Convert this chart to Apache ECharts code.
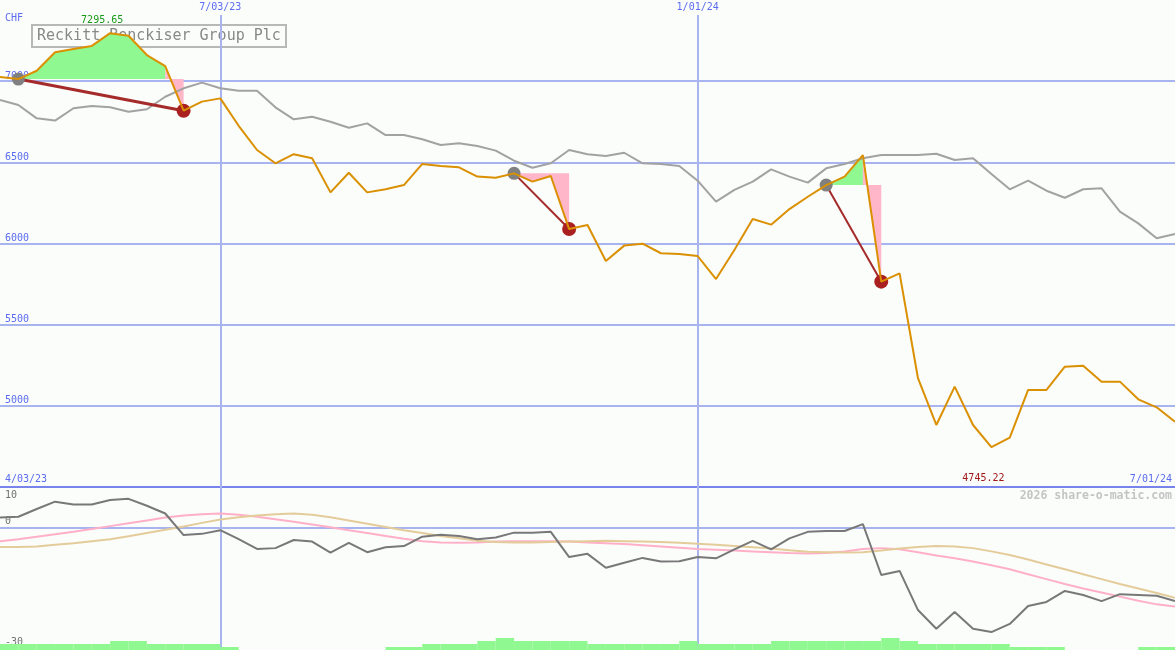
<!DOCTYPE html>
<html><head><meta charset="utf-8">
<script src="https://cdn.jsdelivr.net/npm/echarts@6/dist/echarts.min.js"></script>
<style>html,body{margin:0;padding:0;background:#fbfdfb}#c{width:1175px;height:650px}</style>
</head><body><div id="c"></div><script>
// ---------- data ----------
const stockName = 'Reckitt Benckiser Group Plc';
const currency = 'CHF';
const dateLabels = ['4/03/23', '7/03/23', '1/01/24', '7/01/24'];
const dateIdx = [0, 12, 38, 64];
const priceTicks = [5000, 5500, 6000, 6500, 7000];
const oscTicks = [-30, 0, 10];
const price = [7026, 7013, 7064, 7178, 7198, 7217, 7295.65, 7280, 7161, 7093,
  6818, 6874, 6894, 6725, 6576, 6494, 6550, 6525, 6315, 6436,
  6315, 6334, 6360, 6490, 6477, 6469, 6412, 6405, 6432, 6381,
  6416, 6089, 6114, 5892, 5987, 5999, 5940, 5935, 5923, 5781,
  5960, 6151, 6116, 6212, 6288, 6360, 6412, 6545, 5765, 5816,
  5170, 4882, 5118, 4882, 4745.22, 4804, 5098, 5098, 5241, 5247,
  5149, 5149, 5040, 4991, 4902];
const compare = [6884, 6853, 6771, 6757, 6833, 6847, 6839, 6812, 6827, 6904,
  6956, 6991, 6956, 6941, 6941, 6839, 6765, 6781, 6750, 6713,
  6740, 6668, 6668, 6642, 6607, 6617, 6601, 6572, 6510, 6467,
  6494, 6576, 6550, 6539, 6559, 6494, 6490, 6477, 6387, 6258,
  6330, 6381, 6457, 6412, 6375, 6463, 6490, 6525, 6545, 6545,
  6545, 6553, 6514, 6525, 6428, 6334, 6387, 6325, 6282, 6334,
  6340, 6196, 6124, 6032, 6059];
const osc = [2.5, 2.7, 4.6, 6.4, 5.7, 5.7, 6.8, 7.1, 5.4, 3.5,
  -1.8, -1.5, -0.6, -2.8, -5.2, -5.0, -3.0, -3.4, -6.1, -3.7,
  -6.0, -4.8, -4.5, -2.2, -1.7, -2.0, -2.8, -2.4, -1.2, -1.2,
  -1.0, -7.2, -6.4, -9.8, -8.6, -7.4, -8.3, -8.2, -7.2, -7.5,
  -5.3, -3.2, -5.3, -2.6, -1.0, -0.8, -0.8, 0.9, -11.6, -10.6,
  -20.2, -24.8, -20.7, -24.8, -25.6, -23.6, -19.2, -18.2, -15.5, -16.5,
  -18.0, -16.3, -16.5, -16.7, -18.0];
const oscFast = [-3.3, -2.8, -2.2, -1.6, -1.0, -0.3, 0.4, 1.1, 1.8, 2.5,
  3.0, 3.3, 3.5, 3.2, 2.7, 2.1, 1.5, 0.8, 0.1, -0.6,
  -1.3, -2.0, -2.7, -3.3, -3.6, -3.7, -3.6, -3.4, -3.3, -3.3,
  -3.3, -3.4, -3.6, -3.8, -4.0, -4.3, -4.6, -4.9, -5.2, -5.4,
  -5.6, -5.8, -6.0, -6.2, -6.3, -6.2, -5.8, -5.2, -5.0, -5.3,
  -6.0, -6.8, -7.5, -8.3, -9.2, -10.2, -11.4, -12.6, -13.8, -14.9,
  -15.9, -16.9, -17.9, -18.8, -19.3];
const oscSlow = [-4.7, -4.7, -4.6, -4.2, -3.8, -3.3, -2.8, -2.1, -1.3, -0.5,
  0.3, 1.2, 2.0, 2.6, 3.0, 3.3, 3.5, 3.2, 2.6, 1.8,
  1.0, 0.2, -0.6, -1.3, -2.0, -2.6, -3.2, -3.5, -3.6, -3.6,
  -3.5, -3.4, -3.3, -3.2, -3.3, -3.4, -3.5, -3.7, -3.9, -4.2,
  -4.5, -4.8, -5.1, -5.5, -5.9, -6.0, -6.1, -6.0, -5.6, -5.1,
  -4.7, -4.5, -4.6, -5.0, -5.8, -6.7, -7.8, -9.0, -10.2, -11.4,
  -12.6, -13.8, -14.9, -16.0, -17.2];
const volumeLevel = [2, 2, 2, 2, 2, 2, 3, 3, 2, 2,
  2, 2, 1, 0, 0, 0, 0, 0, 0, 0,
  0, 1, 1, 2, 2, 2, 3, 4, 3, 3,
  3, 3, 2, 2, 2, 2, 2, 3, 2, 2,
  2, 2, 3, 3, 3, 3, 3, 3, 4, 3,
  2, 2, 2, 2, 2, 1, 1, 1, 0, 0,
  0, 0, 1, 1];
const eventStart = [1, 28, 45];
const eventEnd = [10, 31, 48];
const eventLineWidth = [3, 2, 2];

// ---------- styles ----------
const MONO = 'DejaVu Sans Mono';
const BLUE_TXT = '#5b6cf0';
const GRID_BLUE = '#a8b4f0';
const AXIS_BLUE = '#7884ec';
const GREEN = '#90f890';
const PINK = '#ffb6c8';
const N = price.length - 1;

const pts = arr => arr.map((v, i) => [i, v]);
const slice = (a, b) => { const d = []; for (let i = a; i <= b; i++) d.push([i, price[i]]); return d; };

const maxIdx = price.indexOf(Math.max(...price));
const minIdx = price.indexOf(Math.min(...price));

const series = [];
// fills between price and event baseline: green while rising above, pink for the final drop
eventStart.forEach((s, e) => {
  const base = price[s];
  const end = eventEnd[e];
  let lastAbove = s;
  for (let i = s + 1; i < end; i++) if (price[i] > base) lastAbove = i;
  if (lastAbove > s) {
    series.push({
      type: 'line', xAxisIndex: 0, yAxisIndex: 0, data: slice(s, lastAbove), symbol: 'none', silent: true,
      lineStyle: { width: 0, opacity: 0 }, areaStyle: { origin: base, color: GREEN, opacity: 1 }, z: 2
    });
  }
  series.push({
    type: 'line', xAxisIndex: 0, yAxisIndex: 0, data: slice(lastAbove, end), symbol: 'none', silent: true,
    lineStyle: { width: 0, opacity: 0 }, areaStyle: { origin: base, color: PINK, opacity: 1 }, z: 2
  });
});
// comparison line
series.push({
  type: 'line', xAxisIndex: 0, yAxisIndex: 0, data: pts(compare), symbol: 'none',
  lineStyle: { color: '#a2a2a2', width: 2 }, z: 3, silent: true
});
// connecting lines
eventStart.forEach((s, e) => {
  series.push({
    type: 'line', xAxisIndex: 0, yAxisIndex: 0, symbol: 'none', silent: true,
    data: [[s, price[s]], [eventEnd[e], price[eventEnd[e]]]],
    lineStyle: { color: '#a52a2a', width: eventLineWidth[e] }, z: 4
  });
});
// markers
series.push({
  type: 'scatter', xAxisIndex: 0, yAxisIndex: 0, symbolSize: 13, silent: true,
  data: eventStart.map(s => [s, price[s]]), itemStyle: { color: '#808080', opacity: 1 }, z: 5
});
series.push({
  type: 'scatter', xAxisIndex: 0, yAxisIndex: 0, symbolSize: 14, silent: true,
  data: eventEnd.map(s => [s, price[s]]), itemStyle: { color: '#aa2020', opacity: 1 }, z: 5
});
// price line
series.push({
  type: 'line', xAxisIndex: 0, yAxisIndex: 0, data: pts(price), symbol: 'none', silent: true,
  lineStyle: { color: '#da9000', width: 2 }, z: 6,
  markLine: {
    silent: true, symbol: 'none', z: 1,
    lineStyle: { color: GRID_BLUE, width: 2, type: 'solid' },
    label: { show: true, position: 'start', distance: 3, color: BLUE_TXT, fontFamily: MONO, fontSize: 10 },
    data: [1, 2].map(j => [
      { coord: [dateIdx[j], 7408], label: { formatter: dateLabels[j] } },
      { coord: [dateIdx[j], 4500] }
    ])
  },
  markPoint: {
    silent: true, symbol: 'circle', symbolSize: 0,
    label: { show: true, fontFamily: MONO, fontSize: 10, offset: [-8, 0] },
    data: [
      { coord: [maxIdx, 7375], value: price[maxIdx], label: { color: '#1a9a1a', formatter: price[maxIdx].toFixed(2) } },
      { coord: [minIdx, 4550], value: price[minIdx], label: { color: '#a01818', formatter: price[minIdx].toFixed(2) } }
    ]
  }
});
// oscillator panel
series.push({
  type: 'line', xAxisIndex: 1, yAxisIndex: 1, data: pts(oscFast), symbol: 'none', silent: true,
  lineStyle: { color: '#ffb0c8', width: 2 }, z: 3
});
series.push({
  type: 'line', xAxisIndex: 1, yAxisIndex: 1, data: pts(oscSlow), symbol: 'none', silent: true,
  lineStyle: { color: '#e4cc9a', width: 2 }, z: 3
});
series.push({
  type: 'line', xAxisIndex: 1, yAxisIndex: 1, data: pts(osc), symbol: 'none', silent: true,
  lineStyle: { color: '#787878', width: 2 }, z: 4,
  markLine: {
    silent: true, symbol: 'none', z: 1, label: { show: false },
    lineStyle: { color: GRID_BLUE, width: 2, type: 'solid' },
    data: [{ yAxis: 0 }, { xAxis: dateIdx[1] }, { xAxis: dateIdx[2] }]
  }
});
series.push({
  type: 'bar', xAxisIndex: 2, yAxisIndex: 2, data: volumeLevel, silent: true,
  barWidth: '100%', barCategoryGap: 0, itemStyle: { color: GREEN }, z: 2
});

const option = {
  backgroundColor: '#fbfdfb',
  animation: false,
  title: {
    text: stockName, left: 32, top: 25, padding: [4, 5, 3, 5],
    borderColor: '#b8b8b8', borderWidth: 2, z: 0,
    textStyle: { fontFamily: MONO, fontSize: 15, fontWeight: 'normal', color: '#888888', lineHeight: 15 }
  },
  graphic: [
    { type: 'text', left: 5, top: 13, z: 10, style: { text: currency, fill: BLUE_TXT, font: '10px "DejaVu Sans Mono"' } },
    { type: 'text', right: 3, top: 490, z: 10, style: { text: '2026 share-o-matic.com', fill: '#c4c4c4', font: 'bold 11.5px "DejaVu Sans Mono"' } }
  ],
  grid: [
    { left: 0, right: 0, top: 0, height: 487 },
    { left: 0, right: 0, top: 487, height: 163 }
  ],
  xAxis: [
    {
      gridIndex: 0, type: 'value', min: 0, max: N, interval: N,
      axisLine: { show: true, lineStyle: { color: AXIS_BLUE, width: 2 } },
      axisTick: { show: false }, splitLine: { show: false },
      axisLabel: {
        inside: true, margin: 3, color: BLUE_TXT, fontFamily: MONO, fontSize: 10,
        alignMinLabel: 'left', alignMaxLabel: 'right', padding: [0, 3, 0, 5],
        formatter: v => dateLabels[dateIdx.indexOf(v)] || ''
      }
    },
    { gridIndex: 1, type: 'value', min: 0, max: N, show: false },
    { gridIndex: 1, type: 'category', data: volumeLevel.map((v, i) => i), show: false, boundaryGap: true }
  ],
  yAxis: [
    {
      gridIndex: 0, type: 'value', min: 4500, max: 7500, interval: 500,
      axisLine: { show: false }, axisTick: { show: false },
      splitLine: { show: true, showMinLine: false, showMaxLine: false, lineStyle: { color: GRID_BLUE, width: 2 } },
      axisLabel: {
        inside: true, margin: 5, verticalAlign: 'bottom', color: BLUE_TXT, fontFamily: MONO, fontSize: 10,
        showMinLabel: false, showMaxLabel: false,
        formatter: v => priceTicks.includes(v) ? String(v) : ''
      }
    },
    {
      gridIndex: 1, type: 'value', min: -30, max: 10, interval: 10,
      axisLine: { show: false }, axisTick: { show: false }, splitLine: { show: false },
      axisLabel: {
        inside: true, margin: 5, verticalAlign: 'middle', color: '#707070', fontFamily: MONO, fontSize: 10,
        formatter: v => !oscTicks.includes(v) ? '' : (v === oscTicks[2] ? '{d|' + v + '}' : (v === 0 ? '{z|' + v + '}' : '{b|' + v + '}')),
        rich: {
          d: { padding: [16, 0, 0, 0], color: '#707070', fontFamily: MONO, fontSize: 10 },
          z: { padding: [0, 0, 12, 0], color: '#707070', fontFamily: MONO, fontSize: 10 },
          b: { padding: [0, 0, 16, 0], color: '#707070', fontFamily: MONO, fontSize: 10 }
        }
      }
    },
    { gridIndex: 1, type: 'value', min: 0, max: 163 / 3, show: false }
  ],
  series
};
const chart = echarts.init(document.getElementById('c'), null, { renderer: 'canvas' });
chart.setOption(option);
</script></body></html>
